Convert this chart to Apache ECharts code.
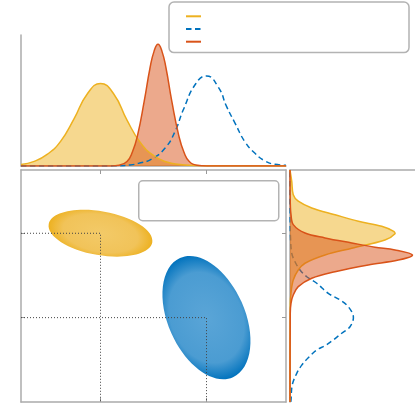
<!DOCTYPE html>
<html>
<head>
<meta charset="utf-8">
<script src="https://cdn.jsdelivr.net/npm/echarts@6/dist/echarts.min.js"></script>
<style>
  html, body { margin: 0; padding: 0; background: #fff; }
  #chart { width: 415px; height: 418px; }
</style>
</head>
<body>
<div id="chart"></div>
<script>
const seriesNames = ['Group 1', 'Group 2', 'Group 3']

// top marginal: x position -> density
const topYellowX = [0, 0.5, 1.0, 1.5, 2.0, 2.5, 3.0, 3.5, 4.0, 4.5, 5.0, 5.5, 6.0, 6.5, 7.0, 10]
const topYellowY = [0.012, 0.035, 0.09, 0.19, 0.36, 0.55, 0.63, 0.55, 0.35, 0.18, 0.08, 0.03, 0.012, 0.004, 0.001, 0]
const topBlueX = [0, 3.5, 4.11, 4.43, 4.93, 5.43, 5.81, 6.12, 6.6, 7.0, 7.45, 7.76, 8.08, 8.45, 8.83, 9.21, 9.58, 10]
const topBlueY = [0, 0.001, 0.008, 0.02, 0.053, 0.135, 0.262, 0.427, 0.63, 0.687, 0.6, 0.453, 0.326, 0.185, 0.097, 0.038, 0.013, 0.006]
const topRedX = [0, 3.4, 3.7, 4.0, 4.2, 4.4, 4.65, 4.87, 5.02, 5.17, 5.32, 5.47, 5.69, 5.95, 6.15, 6.35, 6.65, 7.0, 10]
const topRedY = [0, 0, 0.006, 0.035, 0.105, 0.236, 0.495, 0.75, 0.875, 0.93, 0.875, 0.75, 0.495, 0.236, 0.105, 0.035, 0.006, 0, 0]

// side marginal: y position -> density
const sideYellowY = [0, 4.6, 5.17, 5.78, 6.26, 6.58, 6.97, 7.29, 7.68, 7.98, 8.1, 8.33, 8.57, 8.88, 9.2, 9.52, 9.83, 10.46, 11]
const sideYellowV = [0, 0.002, 0.008, 0.026, 0.066, 0.12, 0.28, 0.494, 0.76, 0.84, 0.826, 0.734, 0.547, 0.36, 0.174, 0.066, 0.026, 0.014, 0]
const sideBlueY = [0, 0.09, 0.81, 1.36, 1.75, 2.1, 2.47, 2.67, 2.94, 3.26, 3.57, 4.04, 4.52, 4.84, 5.15, 5.63, 5.94, 6.26, 6.65, 7.05, 7.8, 8.8, 11]
const sideBlueV = [0.006, 0.008, 0.018, 0.054, 0.094, 0.146, 0.214, 0.28, 0.346, 0.414, 0.48, 0.507, 0.466, 0.4, 0.306, 0.214, 0.134, 0.08, 0.04, 0.014, 0.004, 0.001, 0]
const sideRedY = [0, 4.2, 4.68, 5.07, 5.47, 5.87, 6.18, 6.5, 6.73, 6.97, 7.21, 7.34, 7.54, 7.78, 8.01, 8.41, 8.88, 9.5, 11]
const sideRedV = [0, 0.002, 0.008, 0.026, 0.066, 0.174, 0.36, 0.626, 0.867, 0.98, 0.84, 0.68, 0.494, 0.28, 0.12, 0.026, 0.008, 0.002, 0]

// ellipses in the main plot: centre, half extent in x / y, correlation
const ellipseMeanX = [3, 7]
const ellipseMeanY = [8, 4]
const ellipseHalfW = [1.96, 1.66]
const ellipseHalfH = [1.11, 2.92]
const ellipseCorr = [-0.32, -0.38]

const xTicks = [3, 7]
const yTicks = [4, 8]

const yellow = '#EDB120'
const blue = '#0072BD'
const red = '#D95319'
const axisGray = '#ababab'
const ellipseColors = [
    ['#F3CA68', '#F1C359', '#EDB120'],
    ['#5AA5D7', '#4B9CD2', '#0072BD']
]
const shadeSquash = [0.85, 0.78]

const pairs = (a, b) => a.map((v, i) => [v, b[i]])

function renderEllipse(params, api) {
    const mx = api.value(0), my = api.value(1)
    const hw = api.value(2), hh = api.value(3), r = api.value(4)
    const c = api.coord([mx, my])
    const u = api.coord([mx + hw, my + r * hh])
    const v = api.coord([mx, my + hh * Math.sqrt(1 - r * r)])
    const ux = u[0] - c[0], uy = u[1] - c[1], vx = v[0] - c[0], vy = v[1] - c[1]
    const sxx = ux * ux + vx * vx, syy = uy * uy + vy * vy, sxy = ux * uy + vx * vy
    const m = (sxx + syy) / 2
    const d = Math.sqrt((sxx - syy) * (sxx - syy) / 4 + sxy * sxy)
    const ang = 0.5 * Math.atan2(2 * sxy, sxx - syy)
    const cols = ellipseColors[params.dataIndex]
    const k = shadeSquash[params.dataIndex]
    // shading darkens mostly toward the tips of the long axis
    return {
        type: 'ellipse',
        x: c[0], y: c[1],
        rotation: -ang,
        scaleX: Math.sqrt(m + d),
        scaleY: Math.sqrt(Math.max(m - d, 0)) / k,
        shape: {cx: 0, cy: 0, rx: 1, ry: k},
        style: {
            fill: {
                type: 'radial', x: 0.5, y: 0.5, r: 0.5 / k,
                colorStops: [
                    {offset: 0, color: cols[0]},
                    {offset: 0.72, color: cols[1]},
                    {offset: 1, color: cols[2]}
                ]
            }
        }
    }
}

// side plot curves lie along y, so they are drawn as custom polygons
function sideCurve(vals, ys, color, dash, filled) {
    return function (params, api) {
        if (params.dataIndex !== 0) return
        const cs = params.coordSys
        const box = [[cs.x, cs.y], [cs.x + cs.width, cs.y + cs.height]]
        const pts = ys.map((y, i) => api.coord([vals[i], y]))
        const children = []
        if (filled) {
            children.push({
                type: 'polygon',
                shape: {points: pts, smooth: 0.35, smoothConstraint: box},
                style: {fill: color, opacity: 0.5}
            })
        }
        children.push({
            type: 'polyline',
            shape: {points: pts, smooth: 0.35, smoothConstraint: box},
            style: {fill: null, stroke: color, lineWidth: 1.5, lineDash: dash}
        })
        return {type: 'group', children: children}
    }
}

function frameAxis(gridIndex, min, max, position, ticks) {
    return {
        type: 'value', gridIndex: gridIndex, min: min, max: max, position: position,
        axisLine: {show: true, onZero: false, lineStyle: {color: axisGray, width: 1.5}},
        axisTick: ticks ? {show: true, inside: true, length: 4, customValues: ticks, lineStyle: {color: '#999', width: 1}} : {show: false},
        axisLabel: {show: false},
        splitLine: {show: false}
    }
}

const option = {
    animation: false,
    legend: {
        data: seriesNames,
        orient: 'vertical',
        left: 169,
        top: 2,
        itemWidth: 15,
        itemHeight: 9,
        itemGap: 5.5,
        padding: [10.7, 203, 7.3, 16],
        borderColor: '#b3b3b3',
        borderWidth: 1.5,
        borderRadius: 5,
        backgroundColor: '#fff',
        itemStyle: {opacity: 0},
        formatter: function () { return '' },
        textStyle: {fontSize: 9, lineHeight: 9}
    },
    grid: [
        {left: 21, top: 35, width: 265, height: 131},
        {left: 21, top: 170, width: 265, height: 232},
        {left: 290, top: 170, width: 125, height: 232}
    ],
    xAxis: [
        frameAxis(0, 0, 10, 'bottom', null),
        frameAxis(1, 0, 10, 'bottom', xTicks),
        frameAxis(1, 0, 10, 'top', xTicks),
        frameAxis(2, 0, 1, 'top', null)
    ],
    yAxis: [
        frameAxis(0, 0, 1, 'left', null),
        frameAxis(1, 0, 11, 'left', yTicks),
        frameAxis(1, 0, 11, 'right', yTicks),
        frameAxis(2, 0, 11, 'left', null)
    ],
    series: [
        {
            name: seriesNames[1], type: 'line', xAxisIndex: 0, yAxisIndex: 0,
            data: pairs(topBlueX, topBlueY), smooth: 0.5, symbol: 'none',
            color: blue, lineStyle: {color: blue, width: 1.5, type: [5.5, 3.5]}
        },
        {
            name: seriesNames[0], type: 'line', xAxisIndex: 0, yAxisIndex: 0,
            data: pairs(topYellowX, topYellowY), smooth: 0.5, symbol: 'none',
            color: yellow, lineStyle: {color: yellow, width: 1.5},
            areaStyle: {color: yellow, opacity: 0.5}
        },
        {
            name: seriesNames[2], type: 'line', xAxisIndex: 0, yAxisIndex: 0,
            data: pairs(topRedX, topRedY), smooth: 0.5, symbol: 'none',
            color: red, lineStyle: {color: red, width: 1.5},
            areaStyle: {color: red, opacity: 0.5}
        },
        {
            name: seriesNames[1], type: 'custom', xAxisIndex: 3, yAxisIndex: 3,
            data: pairs(sideBlueV, sideBlueY), color: blue,
            renderItem: sideCurve(sideBlueV, sideBlueY, blue, [5.5, 3.5], false)
        },
        {
            name: seriesNames[0], type: 'custom', xAxisIndex: 3, yAxisIndex: 3,
            data: pairs(sideYellowV, sideYellowY), color: yellow,
            renderItem: sideCurve(sideYellowV, sideYellowY, yellow, null, true)
        },
        {
            name: seriesNames[2], type: 'custom', xAxisIndex: 3, yAxisIndex: 3,
            data: pairs(sideRedV, sideRedY), color: red,
            renderItem: sideCurve(sideRedV, sideRedY, red, null, true)
        },
        {
            type: 'custom', xAxisIndex: 1, yAxisIndex: 1,
            data: ellipseMeanX.map((x, i) => [x, ellipseMeanY[i], ellipseHalfW[i], ellipseHalfH[i], ellipseCorr[i]]),
            renderItem: renderEllipse
        },
        {
            type: 'line', xAxisIndex: 1, yAxisIndex: 1, symbol: 'none',
            data: [[0, ellipseMeanY[0]], [ellipseMeanX[0], ellipseMeanY[0]], [ellipseMeanX[0], 0]],
            lineStyle: {color: '#444', width: 1, type: [1, 2]}
        },
        {
            type: 'line', xAxisIndex: 1, yAxisIndex: 1, symbol: 'none',
            data: [[0, ellipseMeanY[1]], [ellipseMeanX[1], ellipseMeanY[1]], [ellipseMeanX[1], 0]],
            lineStyle: {color: '#444', width: 1, type: [1, 2]}
        }
    ],
    graphic: [
        {
            type: 'rect',
            shape: {x: 138.75, y: 180.75, width: 140, height: 40, r: 4},
            style: {fill: '#fff', stroke: '#b3b3b3', lineWidth: 1.5}
        }
    ]
}

echarts.init(document.getElementById('chart')).setOption(option)
</script>
</body>
</html>
